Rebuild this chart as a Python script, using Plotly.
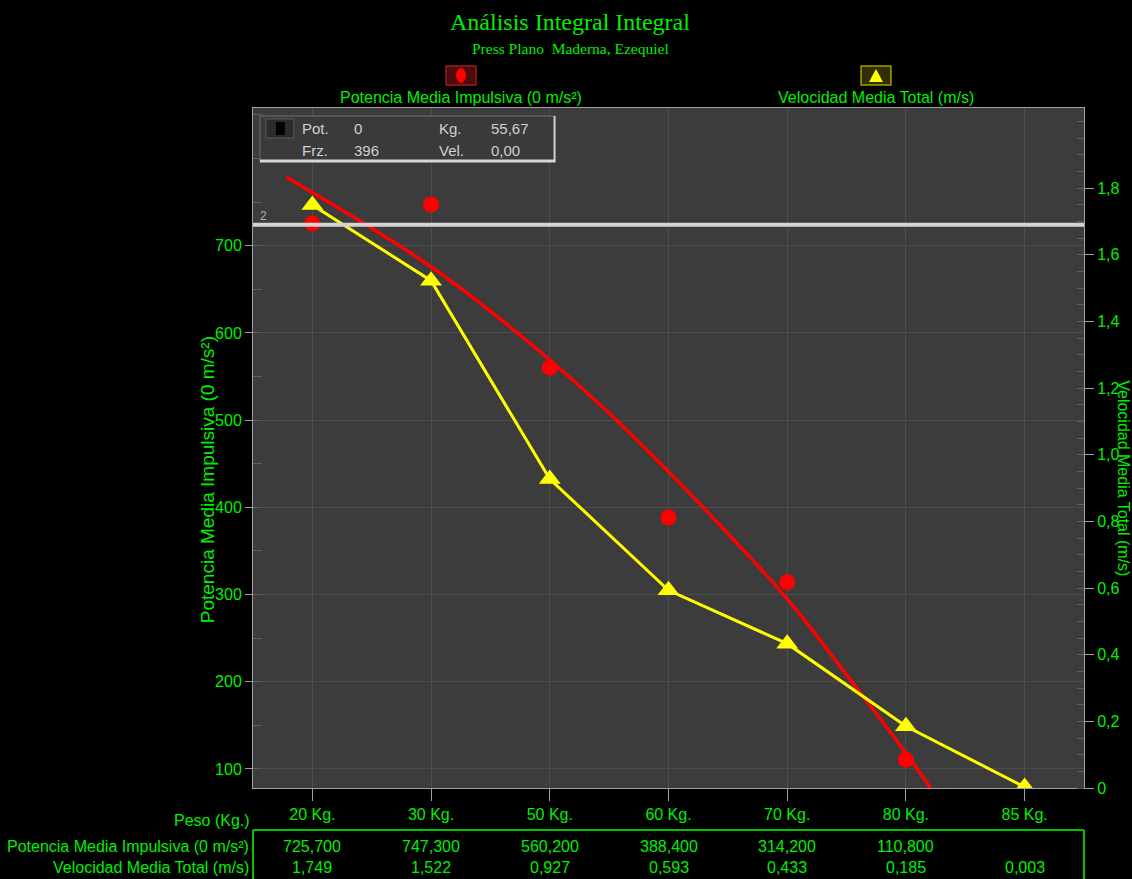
import plotly.graph_objects as go

# ---------------- data ----------------
categories = ["20 Kg.", "30 Kg.", "50 Kg.", "60 Kg.", "70 Kg.", "80 Kg.", "85 Kg."]
potencia = [725.7, 747.3, 560.2, 388.4, 314.2, 110.8, None]
velocidad = [1.749, 1.522, 0.927, 0.593, 0.433, 0.185, 0.003]

# fitted trend curve of potencia (category units)
fit_x = [-0.22, 0.0, 0.5, 1.0, 1.5, 2.0, 2.5, 3.0, 3.5, 4.0, 4.5, 5.0, 5.35]
fit_y = [779, 761, 720, 676, 625, 569, 508, 441, 370, 295, 208, 118, 50]

left_ticks = [100, 200, 300, 400, 500, 600, 700]
right_ticks = [0, 0.2, 0.4, 0.6, 0.8, 1.0, 1.2, 1.4, 1.6, 1.8]
right_tick_text = ["0", "0,2", "0,4", "0,6", "0,8", "1,0", "1,2", "1,4", "1,6", "1,8"]

info_rows = [["Pot.", "0", "Kg.", "55,67"], ["Frz.", "396", "Vel.", "0,00"]]
ref_value = 1.69
ref_label = "2"

title_text = "Análisis Integral Integral"
subtitle_text = "Press Plano  Maderna, Ezequiel"
name_pot = "Potencia Media Impulsiva (0 m/s²)"
name_vel = "Velocidad Media Total (m/s)"
x_title = "Peso (Kg.)"

# ---------------- styling ----------------
W, H = 1132, 879
L, R, T, B = 253, 1088, 108, 788
GREEN = "#00f000"
SANS = "Liberation Sans, Arial, sans-serif"
SERIF = "Liberation Serif, Times New Roman, serif"
AXC = "#a0a0a0"
GRID = "#4c4c4c"


def px(x):
    return (x - L) / (R - L)


def py(y):
    return (B - y) / (B - T)


idx = list(range(len(categories)))

fig = go.Figure()
fig.add_trace(go.Scatter(
    x=fit_x, y=fit_y, mode="lines",
    line=dict(color="#ff0000", width=3.5, shape="spline", smoothing=1.2),
    hoverinfo="skip", showlegend=False))
fig.add_trace(go.Scatter(
    x=idx, y=potencia, mode="markers",
    marker=dict(symbol="circle", size=16, color="#ff0000"),
    name=name_pot, showlegend=False))
fig.add_trace(go.Scatter(
    x=idx, y=velocidad, mode="lines+markers", yaxis="y2",
    line=dict(color="#ffff00", width=3),
    marker=dict(symbol="triangle-up", size=19, color="#ffff00"),
    name=name_vel, showlegend=False))

shapes = []
annotations = []

# reference line
shapes.append(dict(type="line", xref="paper", x0=0, x1=1, yref="y2", y0=ref_value, y1=ref_value,
                   line=dict(color="#d4d4d4", width=4), layer="above"))
annotations.append(dict(xref="paper", x=px(258), yref="y2", y=ref_value, yshift=9,
                        text=ref_label, showarrow=False, xanchor="left",
                        font=dict(family=SANS, size=12, color="#b0b0b0")))

# info box
shapes.append(dict(type="rect", xref="paper", yref="paper", x0=px(260), x1=px(556), y0=py(161), y1=py(116),
                   fillcolor="#3a3a3a", line=dict(color="#6e6e6e", width=1), layer="above"))
shapes.append(dict(type="line", xref="paper", yref="paper", x0=px(260), x1=px(557), y0=py(161), y1=py(161),
                   line=dict(color="#d8d8d8", width=3), layer="above"))
shapes.append(dict(type="line", xref="paper", yref="paper", x0=px(556), x1=px(556), y0=py(161), y1=py(116),
                   line=dict(color="#d0d0d0", width=2), layer="above"))
shapes.append(dict(type="rect", xref="paper", yref="paper", x0=px(266), x1=px(294), y0=py(138), y1=py(119),
                   fillcolor="#2c2c2c", line=dict(color="#5a5a5a", width=1), layer="above"))
shapes.append(dict(type="rect", xref="paper", yref="paper", x0=px(276), x1=px(285), y0=py(135), y1=py(122),
                   fillcolor="#000000", line=dict(width=0), layer="above"))
col_x = [300, 352, 438, 490]
row_y = [128, 150]
for r, row in enumerate(info_rows):
    for c, txt in enumerate(row):
        annotations.append(dict(xref="paper", yref="paper", x=px(col_x[c]), y=py(row_y[r]), text=txt,
                                showarrow=False, xanchor="left", yanchor="middle",
                                font=dict(family=SANS, size=15, color="#d0d0d0")))

# titles
annotations.append(dict(xref="paper", yref="paper", x=px(572), y=py(22), text=title_text, showarrow=False,
                        xanchor="center", yanchor="middle", font=dict(family=SERIF, size=24, color=GREEN)))
annotations.append(dict(xref="paper", yref="paper", x=px(572), y=py(48), text=subtitle_text, showarrow=False,
                        xanchor="center", yanchor="middle", font=dict(family=SERIF, size=15.5, color=GREEN)))

# custom legend
shapes.append(dict(type="rect", xref="paper", yref="paper", x0=px(447), x1=px(477), y0=py(85), y1=py(66),
                   fillcolor="#4a0c0c", line=dict(color="#9a1c1c", width=1.5), layer="above"))
shapes.append(dict(type="circle", xref="paper", yref="paper", x0=px(457), x1=px(467), y0=py(83), y1=py(68),
                   fillcolor="#ff0000", line=dict(width=0), layer="above"))
shapes.append(dict(type="rect", xref="paper", yref="paper", x0=px(864), x1=px(894), y0=py(85), y1=py(66),
                   fillcolor="#2e2e00", line=dict(color="#a0a000", width=1.5), layer="above"))
shapes.append(dict(type="path", xref="paper", yref="paper",
                   path="M {} {} L {} {} L {} {} Z".format(px(872), py(82), px(886), py(82), px(879), py(69)),
                   fillcolor="#ffff00", line=dict(width=0), layer="above"))
annotations.append(dict(xref="paper", yref="paper", x=px(462), y=py(97), text=name_pot, showarrow=False,
                        xanchor="center", yanchor="middle", font=dict(family=SANS, size=16, color=GREEN)))
annotations.append(dict(xref="paper", yref="paper", x=px(879), y=py(97), text=name_vel, showarrow=False,
                        xanchor="center", yanchor="middle", font=dict(family=SANS, size=16, color=GREEN)))

# axis titles
annotations.append(dict(xref="paper", yref="paper", x=px(207), y=py(480), text=name_pot, showarrow=False,
                        textangle=-90, xanchor="center", yanchor="middle",
                        font=dict(family=SANS, size=19, color=GREEN)))
annotations.append(dict(xref="paper", yref="paper", x=px(1128), y=py(478), text=name_vel, showarrow=False,
                        textangle=90, xanchor="center", yanchor="middle",
                        font=dict(family=SANS, size=16, color=GREEN)))

# data table below the chart
annotations.append(dict(xref="paper", yref="paper", x=px(252), y=py(820), text=x_title, showarrow=False,
                        xanchor="right", yanchor="middle", font=dict(family=SANS, size=16, color=GREEN)))
annotations.append(dict(xref="paper", yref="paper", x=px(251), y=py(847), text=name_pot, showarrow=False,
                        xanchor="right", yanchor="middle", font=dict(family=SANS, size=16, color=GREEN)))
annotations.append(dict(xref="paper", yref="paper", x=px(251), y=py(867), text=name_vel, showarrow=False,
                        xanchor="right", yanchor="middle", font=dict(family=SANS, size=16, color=GREEN)))
for i in idx:
    if potencia[i] is not None:
        annotations.append(dict(xref="x", yref="paper", x=i, y=py(847),
                                text="{:.3f}".format(potencia[i]).replace(".", ","), showarrow=False,
                                xanchor="center", yanchor="middle", font=dict(family=SANS, size=16, color=GREEN)))
    if velocidad[i] is not None:
        annotations.append(dict(xref="x", yref="paper", x=i, y=py(867),
                                text="{:.3f}".format(velocidad[i]).replace(".", ","), showarrow=False,
                                xanchor="center", yanchor="middle", font=dict(family=SANS, size=16, color=GREEN)))
shapes.append(dict(type="line", xref="paper", yref="paper", x0=0, x1=1, y0=py(830), y1=py(830),
                   line=dict(color="#00c000", width=2)))
shapes.append(dict(type="line", xref="paper", yref="paper", x0=0, x1=0, y0=py(830), y1=py(890),
                   line=dict(color="#00c000", width=2)))
shapes.append(dict(type="line", xref="paper", yref="paper", x0=1, x1=1, y0=py(830), y1=py(890),
                   line=dict(color="#00c000", width=2)))

fig.update_layout(
    width=W, height=H,
    margin=dict(l=L, r=W - R, t=T, b=H - B),
    paper_bgcolor="#000000",
    plot_bgcolor="#3c3c3c",
    showlegend=False,
    xaxis=dict(range=[-0.5, 6.5], tickmode="array", tickvals=idx, ticktext=categories,
               showgrid=True, gridcolor=GRID, gridwidth=1, zeroline=False,
               showline=True, linecolor=AXC, linewidth=1, mirror=True,
               ticks="outside", ticklen=12, tickcolor=AXC, tickwidth=1,
               tickfont=dict(family=SANS, size=16, color=GREEN)),
    yaxis=dict(range=[78.2, 858], tickmode="array", tickvals=left_ticks,
               showgrid=True, gridcolor=GRID, gridwidth=1, zeroline=False,
               showline=True, linecolor=AXC, linewidth=1, mirror=True,
               ticks="outside", ticklen=7, tickcolor=AXC, tickwidth=1,
               tickfont=dict(family=SANS, size=16, color=GREEN),
               minor=dict(ticks="inside", ticklen=9, tickcolor="#5e5e5e", tickmode="linear",
                          tick0=0, dtick=50, showgrid=False)),
    yaxis2=dict(range=[0, 2.04], overlaying="y", side="right", tickmode="array",
                tickvals=right_ticks, ticktext=right_tick_text,
                showgrid=False, zeroline=False, showline=True, linecolor=AXC, linewidth=1,
                ticks="outside", ticklen=9, tickcolor=AXC, tickwidth=1,
                tickfont=dict(family=SANS, size=16, color=GREEN),
                minor=dict(ticks="inside", ticklen=7, tickcolor="#5e5e5e", tickmode="linear",
                           tick0=0, dtick=0.05, showgrid=False)),
    shapes=shapes,
    annotations=annotations,
)

fig.write_html("out.html", config={"displayModeBar": False},
               post_script="document.body.style.margin='0';document.body.style.background='#000';")
